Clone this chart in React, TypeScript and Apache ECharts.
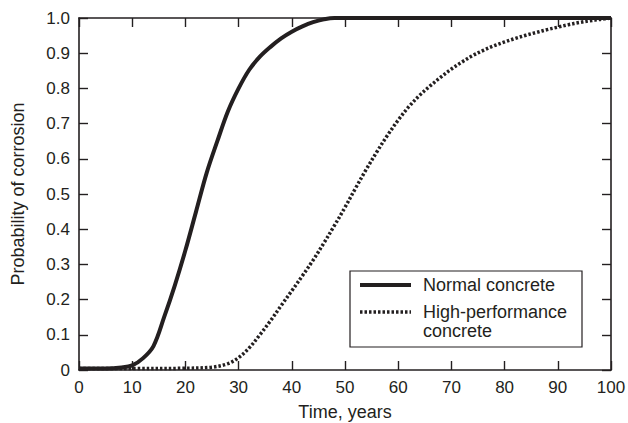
import React, { useEffect, useRef } from "react";
import * as echarts from "echarts";

const normalYears = [0, 5, 8, 10, 12, 14, 16, 18, 20, 22, 24, 26, 28, 30, 32, 34, 36, 38, 40, 42, 44, 46, 48, 50, 60, 70, 80, 90, 100];
const normalProb = [0.004, 0.004, 0.007, 0.013, 0.033, 0.068, 0.15, 0.24, 0.34, 0.45, 0.56, 0.65, 0.735, 0.8, 0.853, 0.89, 0.918, 0.942, 0.961, 0.976, 0.988, 0.996, 1.0, 1.0, 1.0, 1.0, 1.0, 1.0, 1.0];

const hpcYears = [0, 10, 20, 25, 28, 30, 32, 34, 36, 38, 40, 42, 44, 46, 48, 50, 52, 54, 56, 58, 60, 62, 64, 66, 68, 70, 72, 74, 76, 78, 80, 82, 84, 86, 88, 90, 92, 94, 96, 98, 100];
const hpcProb = [0.004, 0.004, 0.005, 0.008, 0.018, 0.035, 0.063, 0.1, 0.14, 0.183, 0.225, 0.268, 0.312, 0.36, 0.41, 0.462, 0.517, 0.57, 0.62, 0.667, 0.71, 0.748, 0.78, 0.807, 0.832, 0.855, 0.875, 0.893, 0.908, 0.921, 0.932, 0.942, 0.951, 0.959, 0.967, 0.974, 0.981, 0.987, 0.992, 0.996, 1.0];

const seriesNames = ["Normal concrete", "High-performance\nconcrete"];
const xAxisTitle = "Time, years";
const yAxisTitle = "Probability of corrosion";

const INK = "#231f20";
const FONT = "'Liberation Sans', Arial, Helvetica, sans-serif";

export default function App() {
  const ref = useRef<HTMLDivElement>(null);
  useEffect(() => {
    if (!ref.current) return;
    const chart = echarts.init(ref.current, undefined, { renderer: "svg" });
    const axisLine = { show: true, onZero: false, lineStyle: { color: INK, width: 1.6 } };
    const axisTick = { show: true, inside: true, length: 9, lineStyle: { color: INK, width: 1.4 } };
    chart.setOption({
      animation: false,
      backgroundColor: "#ffffff",
      textStyle: { fontFamily: FONT, color: INK },
      grid: { left: 79, right: 17, top: 18, bottom: 53, containLabel: false, outerBoundsMode: "none" },
      xAxis: [
        {
          type: "value",
          min: 0,
          max: 100,
          interval: 10,
          position: "bottom",
          name: xAxisTitle,
          nameLocation: "middle",
          nameGap: 33,
          nameTextStyle: { fontSize: 18, color: INK, fontFamily: FONT },
          axisLine,
          axisTick,
          splitLine: { show: false },
          axisLabel: { fontSize: 17, color: INK, margin: 9, fontFamily: FONT },
        },
        {
          type: "value",
          min: 0,
          max: 100,
          interval: 10,
          position: "top",
          axisLine,
          axisTick,
          splitLine: { show: false },
          axisLabel: { show: false },
        },
      ],
      yAxis: [
        {
          type: "value",
          min: 0,
          max: 1,
          interval: 0.1,
          position: "left",
          name: yAxisTitle,
          nameLocation: "middle",
          nameGap: 52,
          nameTextStyle: { fontSize: 18, color: INK, fontFamily: FONT },
          axisLine,
          axisTick,
          splitLine: { show: false },
          axisLabel: {
            fontSize: 17,
            color: INK,
            margin: 9,
            fontFamily: FONT,
            formatter: (v: number) => (v === 0 ? "0" : v.toFixed(1)),
          },
        },
        {
          type: "value",
          min: 0,
          max: 1,
          interval: 0.1,
          position: "right",
          axisLine,
          axisTick,
          splitLine: { show: false },
          axisLabel: { show: false },
        },
      ],
      series: [
        {
          name: seriesNames[0],
          type: "line",
          xAxisIndex: 0,
          yAxisIndex: 0,
          data: normalYears.map((t, i) => [t, normalProb[i]]),
          smooth: 0.35,
          symbol: "none",
          lineStyle: { color: INK, width: 4 },
          z: 3,
        },
        {
          name: seriesNames[1],
          type: "line",
          xAxisIndex: 0,
          yAxisIndex: 0,
          data: hpcYears.map((t, i) => [t, hpcProb[i]]),
          smooth: 0.35,
          symbol: "none",
          lineStyle: { color: INK, width: 3.5, type: [2.5, 2] },
          z: 2,
        },
      ],
      graphic: [
        {
          type: "group",
          z: 100,
          children: [
            {
              type: "rect",
              shape: { x: 350, y: 271, width: 232, height: 76 },
              style: { fill: "#ffffff", stroke: INK, lineWidth: 1.2 },
            },
            {
              type: "line",
              shape: { x1: 360, y1: 285, x2: 411, y2: 285 },
              style: { stroke: INK, lineWidth: 4 },
            },
            {
              type: "line",
              shape: { x1: 360, y1: 312, x2: 411, y2: 312 },
              style: { stroke: INK, lineWidth: 3.5, lineDash: [2.5, 2] },
            },
            {
              type: "text",
              x: 423,
              y: 285,
              style: { text: "Normal concrete", fill: INK, font: `18px ${FONT}`, verticalAlign: "middle", align: "left" },
            },
            {
              type: "text",
              x: 423,
              y: 312,
              style: { text: "High-performance", fill: INK, font: `18px ${FONT}`, verticalAlign: "middle", align: "left" },
            },
            {
              type: "text",
              x: 423,
              y: 331,
              style: { text: "concrete", fill: INK, font: `18px ${FONT}`, verticalAlign: "middle", align: "left" },
            },
          ],
        },
      ],
    });
    return () => chart.dispose();
  }, []);
  return (
    <div
      ref={ref}
      style={{ position: "fixed", left: 0, top: 0, width: 628, height: 423, background: "#fff" }}
    />
  );
}
